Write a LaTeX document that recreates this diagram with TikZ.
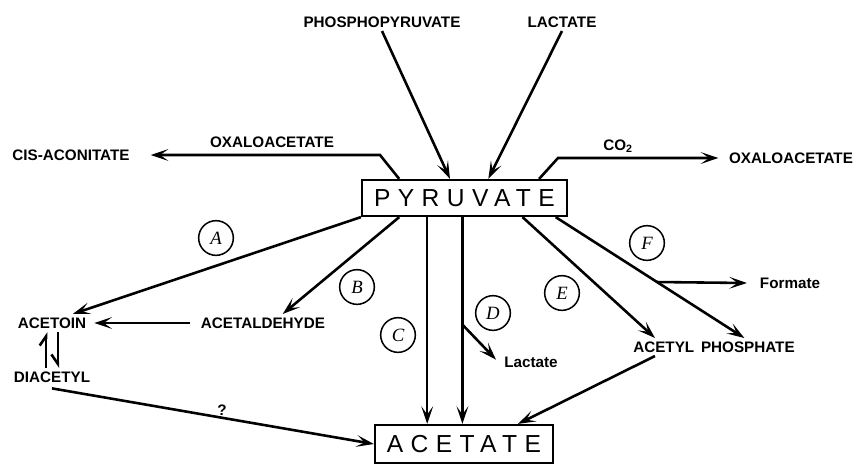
\documentclass[tikz,border=0pt]{standalone}
\usepackage{fontspec}
\setmainfont{Liberation Sans}
\newfontfamily\labfont{Liberation Sans}
\newfontfamily\boxfont{Liberation Sans}[LetterSpace=30]
\newfontfamily\circfont{Liberation Serif}
\usetikzlibrary{arrows.meta,calc}
\begin{document}
\begin{tikzpicture}[x=0.03cm, y=-0.03cm,
        line width=2.2pt,
        lab/.style={inner sep=2pt, font=\labfont\bfseries\fontsize{13}{15}\selectfont},
        compound/.style={draw, line width=1.9pt, inner sep=0pt, font=\boxfont\fontsize{21}{23}\selectfont},
        enzyme/.style={circle, draw, line width=1.3pt, minimum size=1.04cm, inner sep=0pt, font=\circfont\itshape\fontsize{16}{18}\selectfont},
        arr/.style={-{Stealth[length=15pt, width=10pt, inset=7pt]}},
        hup/.style={-{Straight Barb[left, length=8pt, width=11pt]}},
        hdown/.style={-{Straight Barb[right, length=8pt, width=11pt]}}]
    \useasboundingbox (0,0) rectangle (865,464);

    % the two boxes
    \node[compound, minimum width=6.15cm, minimum height=1.08cm] (pyr) at (464.5,198) {PYRUVATE};
    \node[compound, minimum width=5.34cm, minimum height=1.14cm] (acet) at (464,444) {ACETATE};

    % compounds and side products
    \node[lab] (phos) at (382,22) {PHOSPHOPYRUVATE};
    \node[lab] (lact) at (562,22) {LACTATE};
    \node[lab] (cis) at (71,155) {CIS-ACONITATE};
    \node[lab] (oxaL) at (272,142) {OXALOACETATE};
    \node[lab] (oxaR) at (791,158) {OXALOACETATE};
    \node[lab] (co2) at (618,146) {CO\textsubscript{2}};
    \node[lab] (acetoin) at (52,323) {ACETOIN};
    \node[lab] (acetald) at (263,323) {ACETALDEHYDE};
    \node[lab] (diacetyl) at (52,377) {DIACETYL};
    \node[lab] (quest) at (222,410) {?};
    \node[lab] (lactD) at (531,362) {Lactate};
    \node[lab] (formate) at (790,283) {Formate};
    \node[lab] (acetp) at (714,347) {ACETYL\, PHOSPHATE};

    % pathway labels
    \node[enzyme] (A) at (216,238) {A};
    \node[enzyme] (B) at (357,287) {B};
    \node[enzyme] (C) at (398,335) {C};
    \node[enzyme] (D) at (493,313) {D};
    \node[enzyme] (E) at (562,293) {E};
    \node[enzyme] (F) at (647,243) {F};

    % points on the box edges
    \coordinate (pPhos) at ($(pyr.north west)!0.43!(pyr.north east)$);
    \coordinate (pLact) at ($(pyr.north west)!0.615!(pyr.north east)$);
    \coordinate (pOxaL) at ($(pyr.north west)!0.185!(pyr.north east)$);
    \coordinate (pOxaR) at ($(pyr.north west)!0.86!(pyr.north east)$);
    \coordinate (pB) at ($(pyr.south west)!0.185!(pyr.south east)$);
    \coordinate (pC) at ($(pyr.south west)!0.32!(pyr.south east)$);
    \coordinate (pD) at ($(pyr.south west)!0.49!(pyr.south east)$);
    \coordinate (pE) at ($(pyr.south west)!0.78!(pyr.south east)$);
    \coordinate (pF) at ($(pyr.south west)!0.94!(pyr.south east)$);
    \coordinate (bendL) at (380,155);
    \coordinate (bendR) at (558,158);

    \draw[arr] (phos.south) -- (pPhos);
    \draw[arr] (lact.south) -- (pLact);
    \draw[arr] (pOxaL) -- (bendL) -- ([xshift=15pt]cis.east);
    \draw[arr] (pOxaR) -- (bendR) -- ([xshift=-6pt]oxaR.west);

    % A and B
    \draw[arr] (pyr.south west) -- ($(acetoin.north)!0.55!(acetoin.north east)$);
    \draw[arr] (pB) -- ($(acetald.north)!0.3!(acetald.north east)$);
    \draw[arr] ([xshift=-6pt]acetald.west) -- ([xshift=4pt]acetoin.east);
    \draw[hup] ([xshift=-5pt]diacetyl.north) -- ([xshift=-5pt]acetoin.south);
    \draw[hdown] ([xshift=5pt]acetoin.south) -- ([xshift=5pt]diacetyl.north);
    \draw[arr] ([yshift=-2pt]diacetyl.south) -- (acet.west);

    % C and D
    \draw[arr] (pC) -- (pC |- acet.north);
    \draw[arr] (pD) -- (pD |- acet.north);
    \coordinate (dBranch) at ($(pD)!0.52!(pD |- acet.north)$);
    \draw[arr] (dBranch) -- ([xshift=-4pt,yshift=2pt]lactD.west);

    % E and F
    \coordinate (eTip) at ($(acetp.north west)!0.15!(acetp.north east)$);
    \coordinate (fTip) at ($(acetp.north west)!0.68!(acetp.north east)$);
    \draw[arr] (pE) -- (eTip);
    \draw[arr] (pF) -- (fTip);
    \coordinate (fBranch) at ($(pF)!0.537!(fTip)$);
    \draw[arr] (fBranch) -- ([xshift=-8pt]formate.west);
    \draw[arr] ($(acetp.south west)!0.15!(acetp.south east)$) -- ($(acet.north west)!0.80!(acet.north east)$);
\end{tikzpicture}
\end{document}
